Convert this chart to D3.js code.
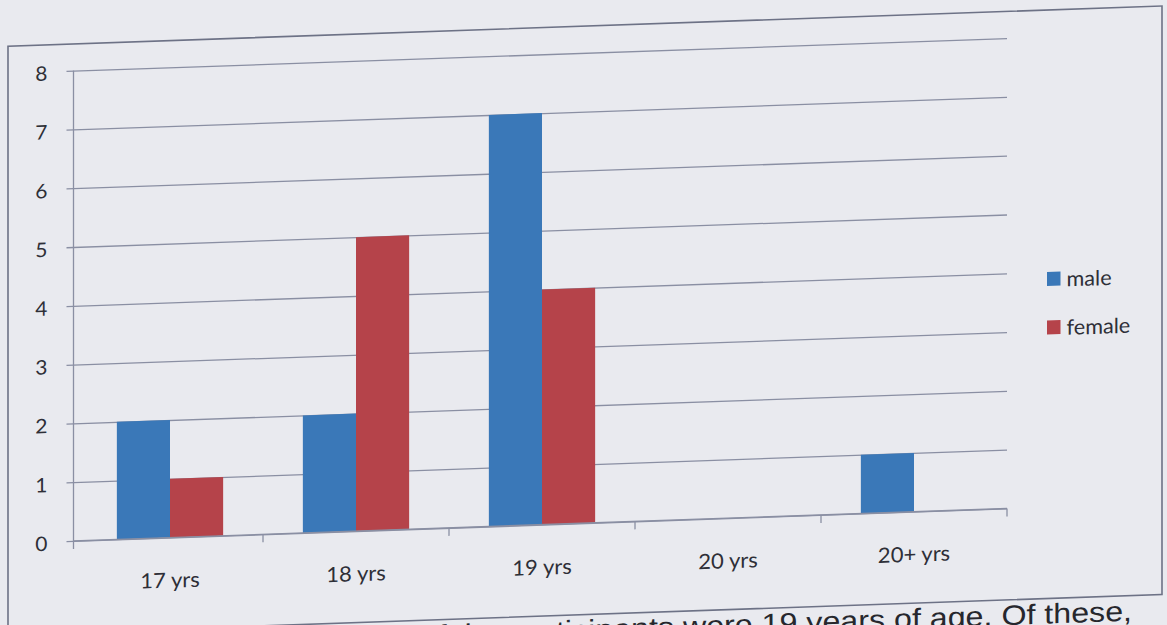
<!DOCTYPE html>
<html>
<head>
<meta charset="utf-8">
<script src="https://cdn.jsdelivr.net/npm/d3@7/dist/d3.min.js"></script>
<style>
  html, body { margin: 0; padding: 0; background: #e9eaef; }
  svg { display: block; }
</style>
</head>
<body>
<svg id="chart" width="1167" height="625"></svg>
<script>
// Age of participants by sex
const categories = ["17 yrs", "18 yrs", "19 yrs", "20 yrs", "20+ yrs"];
const seriesNames = ["male", "female"];
const maleCounts = [2, 2, 7, 0, 1];
const femaleCounts = [1, 5, 4, 0, 0];
const yTicks = [0, 1, 2, 3, 4, 5, 6, 7, 8];
const bodyLine = "of the participants were 19 years of age. Of these,";

const colors = { male: "#3a78b8", female: "#b5434a" };
const labelFont = "Lato, 'Open Sans', sans-serif";
const inkColor = "#2e2f37";
const gridColor = "#8a8fa3";

const svg = d3.select("#chart");
svg.append("rect").attr("width", 1167).attr("height", 625).attr("fill", "#e9eaef");

// the printed page sits slightly askew
const g = svg.append("g").attr("transform", "skewY(-1.994)");

const plot = { axis: 73.5, left: 77, right: 1007, top: 73.2, bottom: 543.5 };

// chart frame
g.append("rect")
  .attr("x", 8).attr("y", 46.5)
  .attr("width", 1154).attr("height", 588.5)
  .attr("fill", "none").attr("stroke", "#6d7286").attr("stroke-width", 1.6);

const x0 = d3.scaleBand().domain(categories).range([plot.left, plot.right]).paddingInner(0).paddingOuter(0);
const x1 = d3.scaleBand().domain(seriesNames).range([0, x0.bandwidth()]).paddingInner(0).paddingOuter(0.75);
const y = d3.scaleLinear().domain([0, 8]).range([plot.bottom, plot.top]);

// horizontal gridlines with value labels
const yAxis = g.append("g")
  .attr("transform", `translate(${plot.axis},0)`)
  .call(d3.axisLeft(y).tickValues(yTicks).tickSizeInner(-(plot.right - plot.axis)).tickSizeOuter(0).tickPadding(26));
yAxis.select(".domain").remove();
yAxis.selectAll(".tick line")
  .attr("x1", -7)
  .attr("stroke", gridColor).attr("stroke-width", 1.3);
yAxis.selectAll(".tick text")
  .attr("font-family", labelFont)
  .attr("font-size", 20).attr("fill", inkColor)
  .attr("dy", "0.42em")
  .each(function () {
    const t = d3.select(this);
    const tx = +t.attr("x");
    t.attr("x", 0).attr("transform", `translate(${tx},0) scale(1.05,1)`);
  });

// vertical value axis line
g.append("line")
  .attr("x1", plot.axis).attr("x2", plot.axis)
  .attr("y1", plot.top).attr("y2", plot.bottom)
  .attr("stroke", gridColor).attr("stroke-width", 1.3);

// bars
const rows = categories.map((c, i) => ({ cat: c, values: [
  { key: "male", value: maleCounts[i] },
  { key: "female", value: femaleCounts[i] }
]}));
const groups = g.append("g").selectAll("g").data(rows).join("g")
  .attr("transform", d => `translate(${x0(d.cat)},0)`);
groups.selectAll("rect").data(d => d.values).join("rect")
  .attr("x", d => x1(d.key))
  .attr("width", x1.bandwidth())
  .attr("y", d => y(d.value))
  .attr("height", d => y(0) - y(d.value))
  .attr("fill", d => colors[d.key]);

// category axis: baseline, boundary ticks and labels
g.append("line")
  .attr("x1", plot.axis).attr("x2", plot.right)
  .attr("y1", y(0)).attr("y2", y(0))
  .attr("stroke", gridColor).attr("stroke-width", 1.4);
const bounds = [plot.axis].concat(categories.map(c => x0(c) + x0.bandwidth()));
g.append("g").selectAll("line").data(bounds).join("line")
  .attr("x1", d => d).attr("x2", d => d)
  .attr("y1", y(0)).attr("y2", y(0) + 8)
  .attr("stroke", gridColor).attr("stroke-width", 1.3);
g.append("g").selectAll("text").data(categories).join("text")
  .attr("transform", d => `translate(${x0(d) + x0.bandwidth() / 2},${y(0) + 50}) scale(1.05,1)`)
  .attr("text-anchor", "middle")
  .attr("font-family", labelFont)
  .attr("font-size", 21).attr("fill", inkColor)
  .text(d => d);

// legend
const legend = g.append("g").selectAll("g").data(seriesNames).join("g")
  .attr("transform", (d, i) => `translate(1047,${315.5 + i * 48.5})`);
legend.append("rect")
  .attr("x", 0).attr("y", -7).attr("width", 13.5).attr("height", 14)
  .attr("fill", d => colors[d]);
legend.append("text")
  .attr("transform", "translate(19.5,8) scale(1.03,1)")
  .attr("font-family", labelFont)
  .attr("font-size", 21).attr("fill", inkColor)
  .text(d => d);

// running text of the page below the figure
g.append("text")
  .attr("transform", "translate(1132,660) scale(1.15,1)")
  .attr("text-anchor", "end")
  .attr("font-family", "'Liberation Sans', Arial, sans-serif")
  .attr("font-size", 28).attr("fill", "#26272d")
  .text(bodyLine);
</script>
</body>
</html>
